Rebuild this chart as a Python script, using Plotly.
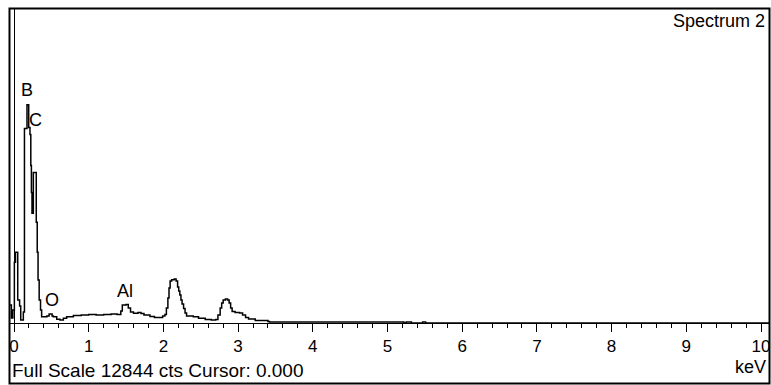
import plotly.graph_objects as go

# Spectrum data (energy in keV, counts)
energy_kev = [-0.054, -0.035, -0.015, 0.005, 0.02, 0.05, 0.075, 0.09, 0.125, 0.14,
              0.174, 0.197, 0.214, 0.225, 0.233, 0.241, 0.259, 0.298, 0.311, 0.322,
              0.337, 0.355, 0.37, 0.44, 0.47, 0.51, 0.527, 0.572, 0.616, 0.661,
              0.705, 0.795, 0.9, 1.0, 1.1, 1.2, 1.3, 1.38, 1.43, 1.45,
              1.5, 1.53, 1.56, 1.6, 1.66, 1.7, 1.74, 1.82, 1.88, 1.95,
              1.99, 2.02, 2.04, 2.06, 2.075, 2.09, 2.11, 2.145, 2.17, 2.19,
              2.205, 2.22, 2.235, 2.25, 2.27, 2.29, 2.31, 2.4, 2.47, 2.56,
              2.64, 2.7, 2.73, 2.76, 2.78, 2.8, 2.83, 2.86, 2.88, 2.9,
              2.92, 2.96, 3.02, 3.06, 3.1, 3.14, 3.23, 3.4, 3.42, 5.2,
              5.22, 5.25, 5.32, 5.47, 5.51, 10.2]
counts = [735, 205, 531, 2488, 2895, 938, 694, 123, 449, 7951,
          8929, 7992, 7706, 6442, 5342, 4485, 6157, 4119, 2895, 1754,
          938, 531, 258, 286, 368, 286, 258, 152, 123, 192,
          258, 307, 327, 347, 327, 347, 368, 347, 490, 735,
          755, 612, 449, 396, 429, 388, 327, 266, 225, 225,
          286, 347, 612, 1020, 1428, 1713, 1774, 1795, 1713, 1468,
          1305, 1142, 938, 775, 592, 408, 286, 258, 192, 143,
          123, 143, 327, 612, 816, 938, 979, 938, 816, 612,
          470, 429, 408, 327, 225, 164, 103, 62, 40, 40,
          0, 40, 0, 40, 0, 0]

# Peak labels
peak_labels = ["B", "C", "O", "Al"]
peak_label_x = [0.174, 0.288, 0.515, 1.486]
peak_label_y = [9530, 8323, 961, 1309]

tick_values = list(range(0, 11))
tick_labels = [str(v) for v in tick_values]

full_scale = 12844
FONT = "Liberation Sans, Arial, sans-serif"

fig = go.Figure()
fig.add_trace(go.Scatter(
    x=energy_kev, y=counts, mode="lines",
    line=dict(color="black", width=1.5, shape="hv"),
    hoverinfo="skip", showlegend=False,
))

for t, x, y in zip(peak_labels, peak_label_x, peak_label_y):
    fig.add_annotation(x=x, y=y, xref="x", yref="y", text=t, showarrow=False,
                       xanchor="center", yanchor="middle",
                       font=dict(family=FONT, size=18, color="black"))

fig.add_annotation(x=0.9974, y=0.9618, xref="paper", yref="paper", text="Spectrum 2",
                   showarrow=False, xanchor="right", yanchor="middle",
                   font=dict(family=FONT, size=18, color="black"))
fig.add_annotation(x=0.0, y=-0.1497, xref="paper", yref="paper",
                   text=f"Full Scale {full_scale} cts Cursor: 0.000",
                   showarrow=False, xanchor="left", yanchor="middle",
                   font=dict(family=FONT, size=19, color="black"))
fig.add_annotation(x=0.9987, y=-0.1401, xref="paper", yref="paper", text="keV",
                   showarrow=False, xanchor="right", yanchor="middle",
                   font=dict(family=FONT, size=18, color="black"))

# outer frame
fig.add_shape(type="rect", xref="paper", yref="paper",
              x0=-0.00066, x1=1.00066, y0=-0.1927, y1=1.0016,
              line=dict(color="black", width=2), fillcolor="rgba(0,0,0,0)", layer="above")

fig.update_layout(
    width=771, height=385,
    margin=dict(l=10, r=2, t=9, b=62),
    paper_bgcolor="white", plot_bgcolor="white",
    showlegend=False,
    xaxis=dict(
        range=[-0.0535, 10.107],
        tickmode="array", tickvals=tick_values, ticktext=tick_labels,
        ticks="outside", ticklen=8, tickwidth=1, tickcolor="black",
        showline=True, linecolor="black", linewidth=1,
        showgrid=False,
        zeroline=True, zerolinecolor="black", zerolinewidth=1,
        tickfont=dict(family=FONT, size=17, color="black"),
        minor=dict(dtick=0.2, tick0=0, ticks="outside", ticklen=4,
                   tickcolor="black", tickwidth=1, showgrid=False),
        fixedrange=True,
    ),
    yaxis=dict(
        range=[0, full_scale],
        showticklabels=False, showgrid=False, zeroline=False,
        showline=False, ticks="", fixedrange=True,
    ),
)

fig.write_html("out.html", config={"displayModeBar": False},
               post_script="document.body.style.margin='0';document.body.style.overflow='hidden';")
